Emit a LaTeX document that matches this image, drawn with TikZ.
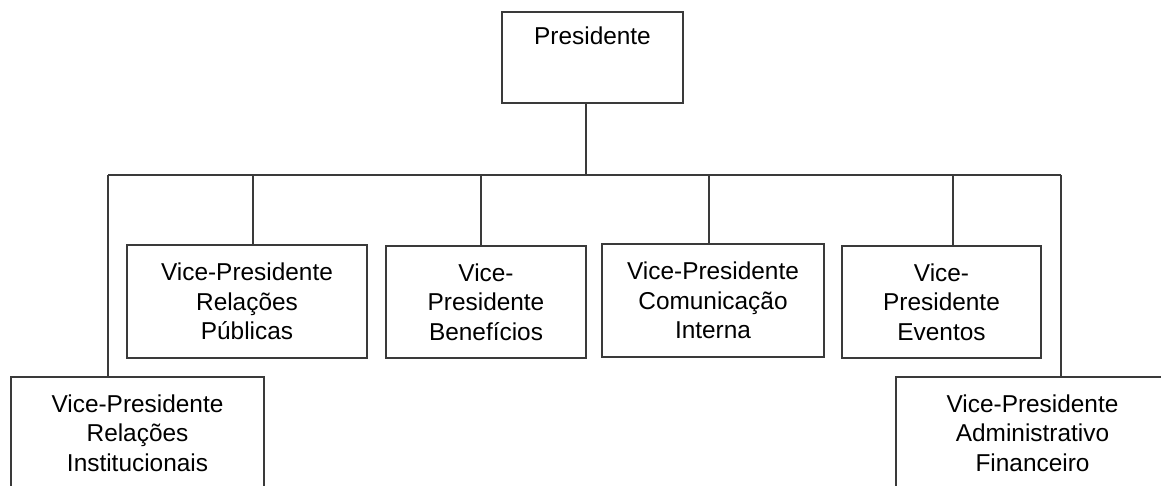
\documentclass[tikz,border=0pt]{standalone}
\usepackage{fontspec}
\setmainfont{Liberation Sans}
\definecolor{linec}{HTML}{3A3A3A}
\begin{document}
\begin{tikzpicture}[x=1pt,y=-1pt,
  box/.style={draw=linec, line width=1.3pt, inner sep=0pt, align=center,
    font=\fontsize{24.4}{29.3}\selectfont},
  conn/.style={draw=linec, line width=1.3pt}]
\useasboundingbox (0,0) rectangle (1161,485);
\clip (0,0) rectangle (1161,485);
% boxes
\node[box, minimum width=181pt, minimum height=91pt] (pres) at (592.5,57.5) {};
\node[inner sep=0pt, anchor=north, font=\fontsize{24.4}{29.3}\selectfont] (prestxt) at (592.5,27) {Presidente};
\node[box, minimum width=240pt, minimum height=113pt] (b1) at (247,301.5) {Vice-Presidente\\Relações\\Públicas};
\node[box, minimum width=200pt, minimum height=112pt] (b2) at (486,302) {Vice-\\Presidente\\Benefícios};
\node[box, minimum width=222pt, minimum height=113pt] (b3) at (713,300.5) {Vice-Presidente\\Comunicação\\Interna};
\node[box, minimum width=199pt, minimum height=112pt] (b4) at (941.5,302) {Vice-\\Presidente\\Eventos};
\node[box, minimum width=253pt, minimum height=112pt] (bl) at (137.5,433) {Vice-Presidente\\Relações\\Institucionais};
\node[box, minimum width=273pt, minimum height=112pt] (br) at (1032.5,433) {Vice-Presidente\\Administrativo\\Financeiro};
% junctions
\coordinate (top) at (586,175);
\coordinate (barL) at (108,175);
\coordinate (barR) at (1061,175);
\coordinate (j1) at (253,175);
\coordinate (j2) at (481,175);
\coordinate (j3) at (709,175);
\coordinate (j4) at (953,175);
% connectors
\draw[conn] (pres.south -| top) -- (top);
\draw[conn] (barL) -- (barR);
\draw[conn] (barL) -- (barL |- bl.north);
\draw[conn] (barR) -- (barR |- br.north);
\draw[conn] (j1) -- (j1 |- b1.north);
\draw[conn] (j2) -- (j2 |- b2.north);
\draw[conn] (j3) -- (j3 |- b3.north);
\draw[conn] (j4) -- (j4 |- b4.north);
\end{tikzpicture}
\end{document}
